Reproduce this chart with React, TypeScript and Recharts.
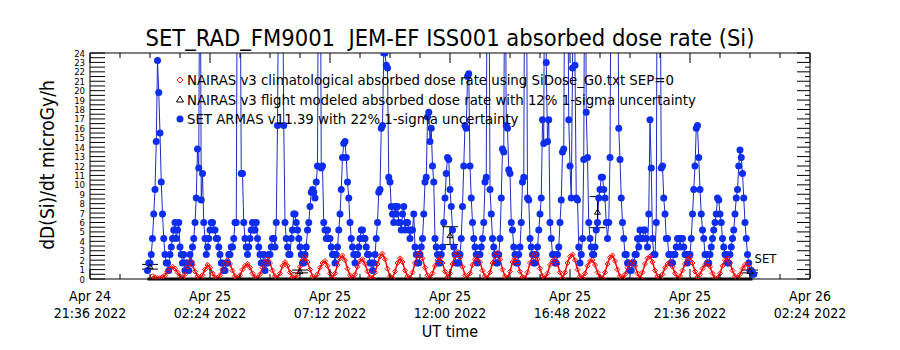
import {
  ComposedChart,
  Line,
  Scatter,
  ErrorBar,
  XAxis,
  YAxis,
  ReferenceLine,
  ReferenceDot,
} from "recharts";

const FONT = "'DejaVu Sans Condensed', 'Liberation Sans Narrow', sans-serif";

// hours since Apr 24 21:36 UT
const majorTicks = [0, 4.8, 9.6, 14.4, 19.2, 24, 28.8];
const minorTicks = [
  0, 1.2, 2.4, 3.6, 4.8, 6, 7.2, 8.4, 9.6, 10.8, 12, 13.2, 14.4, 15.6, 16.8,
  18, 19.2, 20.4, 21.6, 22.8, 24, 25.2, 26.4, 27.6, 28.8,
];
const tickDays = ["Apr 24", "Apr 25", "Apr 25", "Apr 25", "Apr 25", "Apr 25", "Apr 26"];
const tickClock = ["21:36 2022", "02:24 2022", "07:12 2022", "12:00 2022", "16:48 2022", "21:36 2022", "02:24 2022"];

const yHalfTicks = [
  0, 0.5, 1, 1.5, 2, 2.5, 3, 3.5, 4, 4.5, 5, 5.5, 6, 6.5, 7, 7.5, 8, 8.5, 9,
  9.5, 10, 10.5, 11, 11.5, 12, 12.5, 13, 13.5, 14, 14.5, 15, 15.5, 16, 16.5,
  17, 17.5, 18, 18.5, 19, 19.5, 20, 20.5, 21, 21.5, 22, 22.5, 23, 23.5, 24,
];

// SET ARMAS dose rate, one sample every 0.05 h from 2.3 h
const setStart = 2.3;
const setStep = 0.05;
const setDose = [
  0.9, 1.7, 1.7, 2.6, 4.3, 6.9, 9.5, 14.6, 23.2, 19.8, 15.5, 10.3, 6.9, 4.3, 2.6, 1.7, 1.7, 0.9, 2.6, 3.4,
  4.3, 5.2, 6.0, 4.3, 5.2, 6.0, 3.4, 2.6, 1.7, 2.6, 0.9, 1.7, 1.7, 0.9, 2.6, 1.7, 3.4, 4.3, 6.0, 8.6,
  13.8, 11.8, 45, 8.4, 11.2, 6.0, 4.3, 2.6, 3.4, 4.3, 5.2, 6.0, 6.0, 5.2, 5.2, 4.3, 4.3, 3.4, 2.6, 1.7,
  1.7, 0.9, 0.9, 1.7, 1.7, 2.6, 2.6, 3.4, 3.4, 4.3, 6.0, 6.0, 40, 38, 38, 11.2, 11.2, 6.0, 4.3, 3.4,
  2.6, 3.4, 4.3, 5.2, 6.0, 5.2, 5.2, 6.0, 4.3, 3.4, 2.6, 1.7, 1.7, 2.6, 0.9, 1.7, 1.7, 2.6, 2.6, 3.4,
  4.3, 4.3, 3.4, 6.0, 16.3, 35, 45, 42, 35, 16.3, 6.0, 4.3, 3.4, 2.6, 2.6, 4.3, 5.2, 6.9, 6.9, 6.0,
  5.2, 4.3, 3.4, 2.6, 1.7, 1.7, 2.6, 3.4, 5.2, 6.0, 7.7, 9.2, 9.5, 9.2, 8.6, 10.3, 12.0, 45, 48, 11.8,
  12.0, 6.0, 5.2, 4.3, 5.2, 4.3, 4.3, 3.4, 2.6, 2.6, 1.7, 2.6, 3.4, 5.2, 6.9, 9.5, 12.9, 14.4, 14.6, 12.9,
  10.3, 8.6, 6.0, 4.3, 3.4, 2.6, 1.7, 2.6, 2.6, 3.4, 4.3, 5.2, 5.2, 4.3, 4.3, 3.4, 2.6, 2.6, 1.7, 1.7,
  0.9, 1.7, 2.6, 4.3, 6.0, 9.2, 9.5, 16.0, 16.3, 24.0, 24.0, 22.7, 22.4, 10.8, 10.3, 7.7, 6.9, 6.0, 7.7, 6.9,
  7.7, 6.0, 6.0, 5.2, 6.9, 7.7, 5.2, 6.0, 6.0, 5.2, 4.3, 5.2, 5.2, 6.9, 3.4, 2.6, 1.7, 1.7, 2.6, 3.4,
  4.3, 6.9, 10.3, 10.8, 17.2, 17.7, 14.6, 16.0, 12.0, 10.3, 4.3, 3.4, 2.6, 1.7, 1.7, 2.6, 3.4, 6.0, 8.6, 11.2,
  12.9, 12.7, 9.5, 7.7, 5.2, 3.4, 2.6, 1.7, 1.7, 1.7, 2.6, 4.3, 7.7, 12.0, 16.3, 16.0, 21.5, 21.8, 12.0, 8.6,
  6.0, 4.3, 3.4, 2.6, 1.7, 2.6, 2.6, 3.4, 4.3, 6.0, 10.3, 10.8, 45, 40, 9.5, 6.9, 4.3, 3.4, 2.6, 1.7,
  1.7, 2.6, 4.3, 8.6, 13.8, 13.5, 42, 16.3, 16.0, 11.6, 11.2, 6.0, 5.2, 3.4, 2.6, 1.7, 1.7, 2.6, 3.4, 6.0,
  10.3, 10.8, 44, 40, 8.6, 8.4, 4.3, 3.4, 2.6, 1.7, 1.7, 2.6, 3.4, 5.2, 6.9, 8.6, 16.9, 14.4, 50, 23.0,
  14.6, 16.9, 6.0, 4.3, 2.6, 2.6, 1.7, 1.7, 2.6, 3.4, 6.0, 8.4, 13.5, 13.8, 40, 42, 38, 16.9, 12.0, 8.6,
  22.4, 40, 22.7, 8.6, 8.4, 3.4, 1.7, 2.6, 4.3, 12.7, 45, 17.7, 12.9, 6.0, 4.3, 3.4, 2.6, 2.6, 3.4, 5.2,
  6.0, 8.6, 9.5, 10.8, 10.8, 9.5, 8.6, 6.0, 4.3, 6.0, 12.9, 40, 45, 44, 40, 40, 38, 16.0, 12.7, 8.6,
  6.0, 4.3, 2.6, 2.6, 1.7, 1.7, 0.9, 0.9, 1.7, 1.7, 2.6, 2.6, 4.3, 3.4, 5.2, 4.3, 4.3, 5.2, 5.2, 4.3,
  3.4, 6.9, 16.9, 11.8, 4.3, 2.6, 2.6, 6.0, 45, 40, 38, 11.8, 12.0, 8.6, 6.9, 4.3, 4.3, 2.6, 2.6, 1.7,
  1.7, 2.6, 2.6, 3.4, 4.3, 4.3, 3.4, 4.3, 4.3, 3.4, 2.6, 2.6, 1.7, 2.6, 2.6, 4.3, 6.9, 9.5, 12.0, 16.0,
  16.3, 12.9, 9.5, 6.9, 5.2, 4.3, 2.6, 2.6, 1.7, 1.7, 2.6, 3.4, 4.3, 5.2, 6.0, 6.9, 8.6, 8.4, 6.9, 6.0,
  4.3, 3.4, 2.6, 2.6, 1.7, 1.7, 2.6, 3.4, 4.3, 5.2, 6.9, 8.6, 9.5, 12.0, 13.7, 12.9, 11.2, 8.6, 6.0, 4.3,
  2.6, 1.7, 0.9, 0.9, 0.5, 0.5,
];

// NAIRAS climatological dose rate, one sample every 0.1 h from 2.5 h
const climStart = 2.5;
const climStep = 0.1;
const climDose = [
  0.3, 0.2, 0.1, 0.1, 0.2, 0.4, 0.8, 1.1, 1.3, 1.1,
  0.7, 0.3, 0.1, 0.5, 1.3, 1.9, 1.5, 0.8, 0.3, 0.1,
  0.4, 1.0, 1.5, 1.2, 0.6, 0.2, 0.1, 0.4, 1.0, 1.7,
  2.0, 1.6, 0.9, 0.3, 0.1, 0.4, 1.0, 1.4, 1.6, 1.2,
  0.6, 0.2, 0.1, 0.5, 1.2, 1.8, 2.1, 1.7, 0.9, 0.3,
  0.1, 0.6, 1.4, 1.8, 1.4, 0.7, 0.2, 0.1, 0.5, 1.3,
  2.0, 2.3, 1.8, 1.0, 0.3, 0.1, 0.5, 1.2, 1.7, 1.9,
  1.4, 0.6, 0.1, 0.6, 1.5, 2.2, 2.5, 2.0, 1.1, 0.4,
  0.1, 0.5, 1.3, 1.9, 2.1, 1.6, 0.8, 0.2, 0.1, 0.7,
  1.6, 2.4, 2.7, 2.1, 1.1, 0.3, 0.1, 0.8, 1.7, 2.2,
  1.8, 0.9, 0.3, 0.1, 0.7, 1.7, 2.5, 2.8, 2.2, 1.2,
  0.4, 0.1, 0.6, 1.4, 2.0, 2.2, 1.7, 0.8, 0.2, 0.6,
  1.6, 2.5, 2.9, 2.3, 1.3, 0.4, 0.1, 0.6, 1.5, 2.1,
  2.3, 1.8, 0.9, 0.3, 0.1, 0.7, 1.7, 2.5, 2.8, 2.1,
  1.0, 0.3, 0.1, 0.8, 1.8, 2.2, 1.7, 0.8, 0.2, 0.1,
  0.7, 1.7, 2.4, 2.7, 2.1, 1.1, 0.3, 0.1, 0.6, 1.5,
  1.9, 2.1, 1.6, 0.7, 0.1, 0.7, 1.7, 2.4, 2.6, 2.0,
  1.0, 0.3, 0.1, 0.6, 1.4, 1.9, 2.0, 1.5, 0.7, 0.2,
  0.1, 0.7, 1.6, 2.3, 2.5, 1.9, 1.0, 0.3, 0.1, 0.5,
  1.2, 1.7, 1.9, 1.4, 0.6, 0.1, 0.7, 1.6, 2.2, 2.4,
  1.8, 0.9, 0.3, 0.1, 0.5, 1.2, 1.6, 1.8, 1.3, 0.6,
  0.1, 0.3, 0.9, 1.6, 2.1, 2.3, 1.7, 0.8, 0.2, 0.5,
  1.1, 1.5, 1.7, 1.3, 0.6, 0.1, 0.1, 0.6, 1.4, 2.0,
  2.2, 1.7, 0.9, 0.3, 0.1, 0.5, 1.1, 1.5, 1.6, 1.2,
];

// NAIRAS flight modeled points with 1-sigma bars
const flightHours = [2.4, 8.4, 14.4, 20.3, 26.4];
const flightDose = [1.3, 0.8, 4.6, 7.1, 0.8];
const flightErr = [0.25, 0.15, 0.95, 1.65, 0.15];

const setRows = setDose.map((v, i) => ({ t: setStart + i * setStep, v }));
const climRows = climDose.map((v, i) => ({ t: climStart + i * climStep, v }));
const flightRows = flightHours.map((t, i) => ({ t, v: flightDose[i], e: flightErr[i] }));

// bottom axis: inward ticks plus two-line date labels at the major ticks
const TimeTick = (props: any) => {
  const { x, y, payload } = props;
  const k = majorTicks.indexOf(payload.value);
  return (
    <g>
      <line x1={x} y1={y} x2={x} y2={y - (k >= 0 ? 10 : 5)} stroke="#000" />
      {k >= 0 && (
        <g fontSize={14} fontFamily={FONT} fill="#000" textAnchor="middle">
          <text x={x} y={y + 22}>{tickDays[k]}</text>
          <text x={x} y={y + 38.5}>{tickClock[k]}</text>
        </g>
      )}
    </g>
  );
};

const TopTick = (props: any) => {
  const { x, y, payload } = props;
  const major = majorTicks.indexOf(payload.value) >= 0;
  return <line x1={x} y1={y} x2={x} y2={y + (major ? 10 : 5)} stroke="#000" />;
};

const DoseTick = (props: any) => {
  const { x, y, payload } = props;
  const whole = Number.isInteger(payload.value);
  return (
    <g>
      <line x1={x} y1={y} x2={x + 15} y2={y} stroke="#000" />
      {whole && (
        <text x={x - 5} y={y + 3.5} textAnchor="end" fontSize={9.5} fontFamily={FONT} fill="#000">
          {payload.value}
        </text>
      )}
    </g>
  );
};

const RightTick = (props: any) => {
  const { x, y, payload } = props;
  const whole = Number.isInteger(payload.value);
  return <line x1={x} y1={y} x2={x - (whole ? 13 : 5)} y2={y} stroke="#000" />;
};

const Diamond = (props: any) => {
  const { cx, cy } = props;
  if (cx == null || cy == null) return null;
  return (
    <path
      d={`M${cx},${cy - 2.5}L${cx + 2.5},${cy}L${cx},${cy + 2.5}L${cx - 2.5},${cy}Z`}
      fill="none"
      stroke="#ff0000"
      strokeWidth={1}
    />
  );
};

const Triangle = (props: any) => {
  const { cx, cy } = props;
  if (cx == null || cy == null) return null;
  return (
    <path
      d={`M${cx},${cy - 3}L${cx + 3},${cy + 2}L${cx - 3},${cy + 2}Z`}
      fill="none"
      stroke="#000"
      strokeWidth={1}
    />
  );
};

export default function App() {
  return (
    <div style={{ position: "absolute", left: 0, top: 0, width: 900, height: 350, background: "#fff" }}>
      <ComposedChart
        width={900}
        height={350}
        margin={{ top: 52, right: 89, bottom: 21, left: 50 }}
      >
        <XAxis
          xAxisId="b"
          type="number"
          dataKey="t"
          domain={[0, 28.8]}
          ticks={minorTicks}
          interval={0}
          allowDataOverflow
          height={50}
          tickSize={0}
          tickMargin={0}
          tickLine={false}
          axisLine={{ stroke: "#000" }}
          tick={(p: any) => <TimeTick {...p} />}
        />
        <XAxis
          xAxisId="top"
          orientation="top"
          type="number"
          dataKey="t"
          domain={[0, 28.8]}
          ticks={minorTicks}
          interval={0}
          allowDataOverflow
          height={1}
          tickSize={0}
          tickMargin={0}
          tickLine={false}
          axisLine={{ stroke: "#000" }}
          tick={(p: any) => <TopTick {...p} />}
        />
        <YAxis
          yAxisId="l"
          type="number"
          domain={[0, 24]}
          ticks={yHalfTicks}
          interval={0}
          allowDataOverflow
          width={40}
          tickSize={0}
          tickMargin={0}
          tickLine={false}
          axisLine={{ stroke: "#000" }}
          tick={(p: any) => <DoseTick {...p} />}
        />
        <YAxis
          yAxisId="r"
          orientation="right"
          type="number"
          domain={[0, 24]}
          ticks={yHalfTicks}
          interval={0}
          allowDataOverflow
          width={1}
          tickSize={0}
          tickMargin={0}
          tickLine={false}
          axisLine={{ stroke: "#000" }}
          tick={(p: any) => <RightTick {...p} />}
        />

        <Line
          xAxisId="b"
          yAxisId="l"
          data={setRows}
          dataKey="v"
          type="linear"
          stroke="#1c2cc0"
          strokeWidth={1}
          dot={{ r: 3.5, fill: "#0d2df0", stroke: "none" }}
          isAnimationActive={false}
        />
        <Line
          xAxisId="top"
          yAxisId="r"
          data={climRows}
          dataKey="v"
          type="linear"
          stroke="#ff0000"
          strokeWidth={1.5}
          dot={(p: any) => <Diamond key={p.index} {...p} />}
          isAnimationActive={false}
        />
        <Scatter
          xAxisId="b"
          yAxisId="l"
          data={flightRows}
          dataKey="v"
          shape={(p: any) => <Triangle {...p} />}
          isAnimationActive={false}
        >
          <ErrorBar dataKey="e" direction="y" width={8} stroke="#000" strokeWidth={1} />
        </Scatter>
        <ReferenceLine
          xAxisId="b"
          yAxisId="l"
          segment={[{ x: setStart, y: 0 }, { x: 26.5, y: 0 }]}
          stroke="#000"
          strokeWidth={3}
        />
        <ReferenceDot
          xAxisId="b"
          yAxisId="l"
          x={26.5}
          y={2.2}
          r={1}
          fill="none"
          stroke="none"
          label={{ value: "SET", position: "right", offset: 1, fontSize: 13, fontFamily: FONT, fill: "#000" }}
        />
      </ComposedChart>
      <svg
        width={900}
        height={350}
        style={{ position: "absolute", left: 0, top: 0, pointerEvents: "none" }}
        fontFamily={FONT}
      >
        <text x={450} y={46} textAnchor="middle" fontSize={23.5} fill="#000">
          SET_RAD_FM9001{"\u00a0\u00a0"}JEM-EF ISS001 absorbed dose rate (Si)
        </text>
        <text x={54} y={165} textAnchor="middle" fontSize={19} fill="#000" transform="rotate(-90 54 165)">
          dD(Si)/dt microGy/h
        </text>
        <text x={450} y={337} textAnchor="middle" fontSize={16} fill="#000">
          UT time
        </text>
        <path d="M180,77L183,80L180,83L177,80Z" fill="none" stroke="#ff0000" strokeWidth={1} />
        <text x={187} y={85} fontSize={14.8} fill="#000">
          NAIRAS v3 climatological absorbed dose rate using SiDose_G0.txt SEP=0
        </text>
        <path d="M180,96L183.5,102L176.5,102Z" fill="none" stroke="#000" strokeWidth={1} />
        <text x={187} y={105} fontSize={14.8} fill="#000">
          NAIRAS v3 flight modeled absorbed dose rate with 12% 1-sigma uncertainty
        </text>
        <circle cx={180} cy={119} r={3.5} fill="#0d2df0" />
        <text x={187} y={124} fontSize={14.8} fill="#000">
          SET ARMAS v11.39 with 22% 1-sigma uncertainty
        </text>
      </svg>
    </div>
  );
}
